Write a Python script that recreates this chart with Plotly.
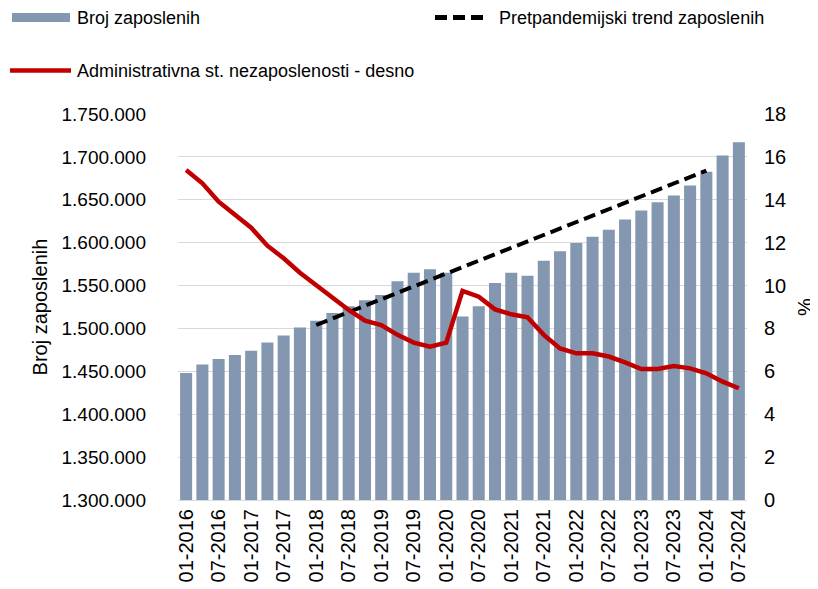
import plotly.graph_objects as go

quarters = ["01-2016", "04-2016", "07-2016", "10-2016",
            "01-2017", "04-2017", "07-2017", "10-2017",
            "01-2018", "04-2018", "07-2018", "10-2018",
            "01-2019", "04-2019", "07-2019", "10-2019",
            "01-2020", "04-2020", "07-2020", "10-2020",
            "01-2021", "04-2021", "07-2021", "10-2021",
            "01-2022", "04-2022", "07-2022", "10-2022",
            "01-2023", "04-2023", "07-2023", "10-2023",
            "01-2024", "04-2024", "07-2024"]

tick_labels = ["01-2016", "07-2016", "01-2017", "07-2017", "01-2018", "07-2018",
               "01-2019", "07-2019", "01-2020", "07-2020", "01-2021", "07-2021",
               "01-2022", "07-2022", "01-2023", "07-2023", "01-2024", "07-2024"]

employment = [1448000, 1458000, 1464500, 1469000, 1474000, 1483500, 1491700, 1501000,
              1509000, 1518000, 1526000, 1533000, 1539000, 1555000, 1565000, 1569000,
              1565000, 1514000, 1526000, 1553000, 1565000, 1561500, 1579000, 1590000,
              1599500, 1607000, 1615000, 1627000, 1637500, 1647000, 1655000, 1666600,
              1682600, 1701500, 1717000]

unemployment = [15.39, 14.77, 13.91, 13.29, 12.70, 11.86, 11.27, 10.60,
                10.03, 9.48, 8.86, 8.36, 8.16, 7.70, 7.34, 7.15,
                7.34, 9.75, 9.48, 8.89, 8.66, 8.52, 7.70, 7.07,
                6.84, 6.84, 6.69, 6.42, 6.11, 6.11, 6.25, 6.14,
                5.91, 5.52, 5.21]

trend_dates = ["01-2018", "01-2024"]
trend_values = [1504000, 1684000]

BAR_COLOR = "#8497B0"
RED = "#C00000"
GRID = "#D9D9D9"
FONT = "Liberation Sans, Arial, sans-serif"

# the page adds an 8px body margin, so the figure is 8px smaller on each axis
OFF = 8
W, H = 818 - OFF, 589 - OFF
ML, MR, MT, MB = 178 - OFF, 71, 114 - OFF, 89
PW, PH = W - ML - MR, H - MT - MB


def px_x(x):
    return (x - OFF - ML) / PW


def px_y(y):
    return (H - MB - (y - OFF)) / PH


fig = go.Figure()
fig.add_trace(go.Bar(x=quarters, y=employment, name="Broj zaposlenih",
                     marker=dict(color=BAR_COLOR, line=dict(width=0)),
                     showlegend=False, yaxis="y"))
fig.add_trace(go.Scatter(x=trend_dates, y=trend_values, mode="lines",
                         name="Pretpandemijski trend zaposlenih",
                         line=dict(color="black", width=4, dash="12px,6px"),
                         showlegend=False, yaxis="y"))
fig.add_trace(go.Scatter(x=quarters, y=unemployment, mode="lines",
                         name="Administrativna st. nezaposlenosti - desno",
                         line=dict(color=RED, width=4.5),
                         showlegend=False, yaxis="y2"))

# manual legend (page pixel positions converted to paper coordinates)
shapes = [
    dict(type="rect", xref="paper", yref="paper",
         x0=px_x(12), x1=px_x(70), y0=px_y(22), y1=px_y(13),
         fillcolor=BAR_COLOR, line=dict(width=0)),
    dict(type="line", xref="paper", yref="paper",
         x0=px_x(435), x1=px_x(488), y0=px_y(17.5), y1=px_y(17.5),
         line=dict(color="black", width=5, dash="12px,6px")),
    dict(type="line", xref="paper", yref="paper",
         x0=px_x(10), x1=px_x(71), y0=px_y(70.5), y1=px_y(70.5),
         line=dict(color=RED, width=4.5)),
]
annotations = [
    dict(text="Broj zaposlenih", x=px_x(75), y=px_y(18), xref="paper", yref="paper",
         xanchor="left", yanchor="middle", showarrow=False,
         font=dict(family=FONT, size=18, color="black")),
    dict(text="Pretpandemijski trend zaposlenih", x=px_x(497), y=px_y(18),
         xref="paper", yref="paper", xanchor="left", yanchor="middle", showarrow=False,
         font=dict(family=FONT, size=18, color="black")),
    dict(text="Administrativna st. nezaposlenosti - desno", x=px_x(75), y=px_y(71),
         xref="paper", yref="paper", xanchor="left", yanchor="middle", showarrow=False,
         font=dict(family=FONT, size=18, color="black")),
]

fig.update_layout(
    width=W, height=H,
    margin=dict(l=ML, r=MR, t=MT, b=MB, autoexpand=False),
    paper_bgcolor="white", plot_bgcolor="white",
    font=dict(family=FONT, size=20, color="black"),
    separators=",.",
    bargap=0.26,
    showlegend=False,
    shapes=shapes,
    annotations=annotations,
    xaxis=dict(type="category", categoryorder="array", categoryarray=quarters,
               tickmode="array", tickvals=tick_labels, ticktext=tick_labels,
               tickangle=-90, showgrid=False, showline=True, linecolor=GRID,
               linewidth=1, ticks="", tickfont=dict(size=20), automargin=False),
    yaxis=dict(range=[1300000, 1750000], dtick=50000, tickformat=",d",
               showgrid=True, gridcolor=GRID, gridwidth=1, zeroline=False,
               showline=False, ticks="", ticklabelstandoff=31,
               tickfont=dict(size=19),
               title=dict(text="Broj zaposlenih", font=dict(size=20), standoff=8),
               automargin=False),
    yaxis2=dict(range=[0, 18], dtick=2, overlaying="y", side="right",
                showgrid=False, zeroline=False, showline=False, ticks="",
                ticklabelstandoff=16,
                title=dict(text="%", font=dict(size=20), standoff=12),
                automargin=False),
)

fig.write_html("out.html")
